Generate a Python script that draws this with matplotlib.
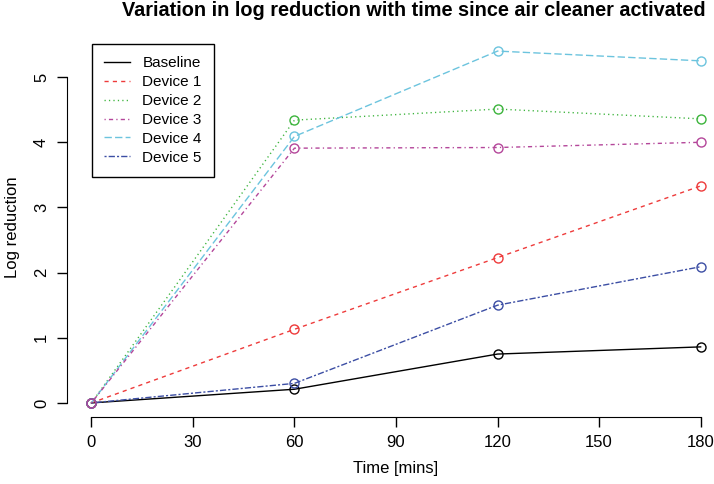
import matplotlib
matplotlib.use("Agg")
import matplotlib.pyplot as plt

time_mins = [0, 60, 120, 180]
baseline = [0.0, 0.21, 0.75, 0.86]
device_1 = [0.0, 1.13, 2.23, 3.33]
device_2 = [0.0, 4.34, 4.51, 4.36]
device_3 = [0.0, 3.91, 3.92, 4.00]
device_4 = [0.0, 4.09, 5.40, 5.25]
device_5 = [0.0, 0.30, 1.50, 2.09]

labels = ["Baseline", "Device 1", "Device 2", "Device 3", "Device 4", "Device 5"]
series = [baseline, device_1, device_2, device_3, device_4, device_5]
colors = ["#000000", "#EE3B3B", "#3CB43C", "#B4469A", "#6CC4DE", "#3C4EA4"]
# R style line types: solid, dashed, dotted, dotdash, longdash, twodash
styles = ["-", (0, (3, 3)), (0, (0.9, 2.3)), (0, (0.9, 2.3, 3, 2.3)),
          (0, (5.3, 2.3)), (0, (1.5, 1.5, 4.5, 1.5))]
zorders = [2, 2, 2, 3, 2, 2]

plt.rcParams["font.family"] = ["Liberation Sans", "DejaVu Sans"]

fig = plt.figure(figsize=(7.14, 4.84), dpi=100)
ax = fig.add_axes([67 / 714, 1 - 417 / 484, 658 / 714, 380 / 484])

for vals, lab, col, ls, z in zip(series, labels, colors, styles, zorders):
    ax.plot(time_mins, vals, color=col, linestyle=ls, linewidth=1.0,
            marker="o", markersize=6.5, markerfacecolor="none",
            markeredgecolor=col, markeredgewidth=1.0, label=lab, zorder=z)

ax.set_xlim(-7.2, 187.2)
ax.set_ylim(-0.216, 5.616)
ax.set_xticks(range(0, 181, 30))
ax.set_yticks(range(0, 6))
for s in ["top", "right"]:
    ax.spines[s].set_visible(False)
ax.spines["left"].set_bounds(0, 5)
ax.spines["bottom"].set_bounds(0, 180)
ax.tick_params(axis="both", length=7, width=1, labelsize=12, pad=6)
plt.setp(ax.get_yticklabels(), rotation=90, va="center")

ax.set_xlabel("Time [mins]", fontsize=12, labelpad=8)
ax.set_ylabel("Log reduction", fontsize=12, labelpad=10)
fig.text(414 / 714, 1 - 11 / 484, "Variation in log reduction with time since air cleaner activated",
         ha="center", va="center", fontsize=14.3, fontweight="bold")

leg = ax.legend(loc="upper left", bbox_to_anchor=(25 / 658, 373 / 380), borderaxespad=0,
                fontsize=11, frameon=True, fancybox=False, edgecolor="black",
                framealpha=1, handlelength=1.7, handletextpad=0.8,
                labelspacing=0.32, borderpad=0.8)
leg.get_frame().set_linewidth(1.0)
for h in leg.legend_handles:
    h.set_marker("")

fig.savefig("out.png", dpi=100)
